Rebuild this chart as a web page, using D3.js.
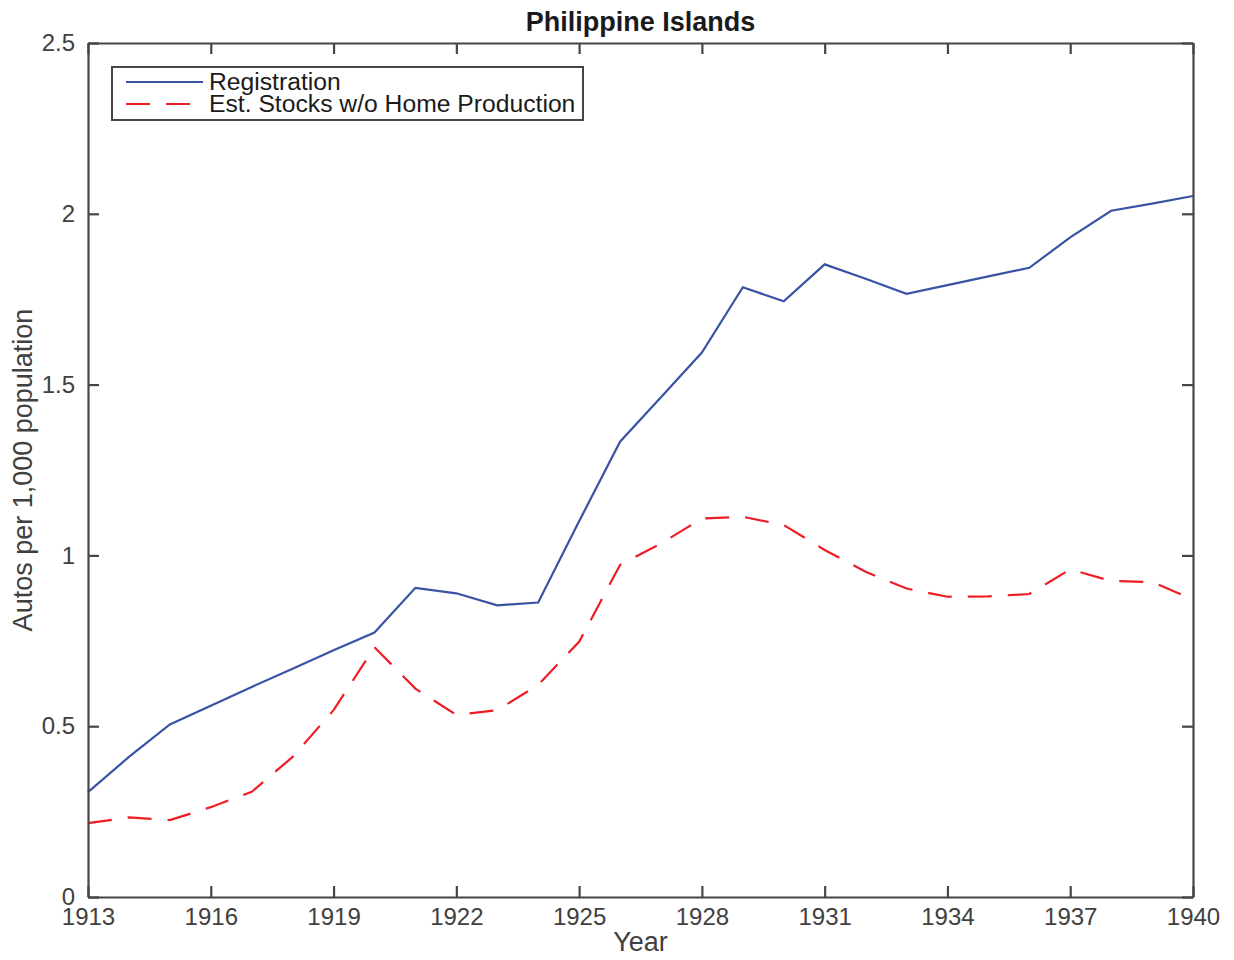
<!DOCTYPE html>
<html>
<head>
<meta charset="utf-8">
<script src="https://cdn.jsdelivr.net/npm/d3@7"></script>
<style>
  body { margin: 0; background: #fff; }
  svg { display: block; }
  text { font-family: "Liberation Sans", Arial, Helvetica, sans-serif; }
</style>
</head>
<body>
<svg id="chart" width="1234" height="960"></svg>
<script>
const years = [1913,1914,1915,1916,1917,1918,1919,1920,1921,1922,1923,1924,1925,1926,1927,1928,1929,1930,1931,1932,1933,1934,1935,1936,1937,1938,1939,1940];
const registration = [0.307,0.41,0.505,0.560,0.615,0.668,0.722,0.774,0.905,0.889,0.854,0.862,1.100,1.333,1.463,1.594,1.785,1.744,1.852,1.810,1.766,1.791,1.817,1.842,1.931,2.009,2.030,2.052];
const estStocks = [0.216,0.233,0.225,0.263,0.308,0.41,0.547,0.731,0.61,0.533,0.547,0.621,0.747,0.972,1.035,1.108,1.113,1.089,1.016,0.952,0.903,0.879,0.880,0.887,0.959,0.925,0.922,0.871];
const xTicks = [1913,1916,1919,1922,1925,1928,1931,1934,1937,1940];
const yTicks = [0,0.5,1,1.5,2,2.5];
const seriesNames = ["Registration","Est. Stocks w/o Home Production"];

const svg = d3.select("#chart");
const L = 88, R = 1193, T = 43, B = 897;
const x = d3.scaleLinear().domain([1913,1940]).range([L,R]);
const y = d3.scaleLinear().domain([0,2.5]).range([B,T]);
const axisColor = "#454545";
const textColor = "#404040";
const fs = 24;

// series
const line = d3.line().x((d,i)=>x(years[i])).y(d=>y(d));
svg.append("path").datum(registration).attr("d", line)
  .attr("fill","none").attr("stroke","#3953a4").attr("stroke-width",2.2).attr("stroke-linejoin","miter");
svg.append("path").datum(estStocks).attr("d", line)
  .attr("fill","none").attr("stroke","#ee1d24").attr("stroke-width",2.2).attr("stroke-dasharray","24,16");

// axes
function styleAxis(g){
  g.select(".domain").attr("stroke",axisColor).attr("stroke-width",2.2);
  g.selectAll(".tick line").attr("stroke",axisColor).attr("stroke-width",2.2);
  g.selectAll(".tick text").attr("fill",textColor).style("font-size",fs+"px")
   .style("font-family",'"Liberation Sans", Arial, sans-serif');
}
const tl = 11;
svg.append("g").attr("transform",`translate(0,${B})`)
  .call(d3.axisBottom(x).tickValues(xTicks).tickFormat(d3.format("d")).tickSizeInner(-tl).tickSizeOuter(0).tickPadding(11))
  .call(styleAxis);
svg.append("g").attr("transform",`translate(0,${T})`)
  .call(d3.axisTop(x).tickValues(xTicks).tickFormat("").tickSizeInner(-tl).tickSizeOuter(0))
  .call(styleAxis);
svg.append("g").attr("transform",`translate(${L},0)`)
  .call(d3.axisLeft(y).tickValues(yTicks).tickFormat(d=>d3.format("")(d)).tickSizeInner(-tl).tickSizeOuter(0).tickPadding(13))
  .call(styleAxis);
svg.append("g").attr("transform",`translate(${R},0)`)
  .call(d3.axisRight(y).tickValues(yTicks).tickFormat("").tickSizeInner(-tl).tickSizeOuter(0))
  .call(styleAxis);

// titles
svg.append("text").attr("x",(L+R)/2).attr("y",31).attr("text-anchor","middle")
  .style("font-size","27px").style("font-weight","bold").attr("fill","#1a1a1a").text("Philippine Islands");
svg.append("text").attr("x",(L+R)/2).attr("y",951).attr("text-anchor","middle")
  .style("font-size","27px").attr("fill",textColor).text("Year");
svg.append("text").attr("transform",`translate(32,${(T+B)/2 + 0}) rotate(-90)`).attr("text-anchor","middle")
  .style("font-size","27px").attr("fill",textColor).text("Autos per 1,000 population");

// legend
const lg = svg.append("g");
lg.append("rect").attr("x",112).attr("y",67).attr("width",471).attr("height",53)
  .attr("fill","#fff").attr("stroke",axisColor).attr("stroke-width",2);
const colors = ["#3953a4","#ee1d24"];
const dashes = [null,"24,16"];
seriesNames.forEach((n,i)=>{
  const yy = 82 + i*22;
  lg.append("line").attr("x1",126).attr("x2",i===0?203:191).attr("y1",yy).attr("y2",yy)
    .attr("stroke",colors[i]).attr("stroke-width",2.2).attr("stroke-dasharray",dashes[i]);
  lg.append("text").attr("x",209).attr("y",yy+8).style("font-size","24.7px").attr("fill","#1a1a1a").text(n);
});
</script>
</body>
</html>
